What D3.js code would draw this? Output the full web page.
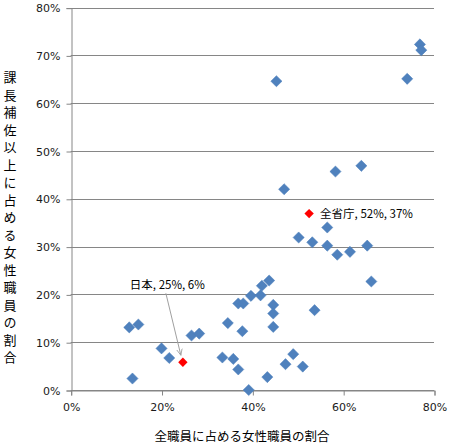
<!DOCTYPE html>
<html>
<head>
<meta charset="utf-8">
<script src="https://cdn.jsdelivr.net/npm/d3@7"></script>
<style>
  body { margin: 0; background: #fff; }
  text { font-family: "DejaVu Sans", sans-serif; }
  .jp { font-family: "Noto Sans CJK JP", sans-serif; }
</style>
</head>
<body>
<div id="chart-container"></div>
<script>
// share of women among all staff (x) and among deputy-director and above (y), per ministry
var xValues = [12.9, 14.9, 13.6, 20.0, 21.7, 26.6, 28.3, 33.4, 34.6, 35.8, 36.9, 36.9, 38.0, 37.8,
               39.2, 39.7, 41.8, 42.1, 43.7, 43.3, 44.6, 44.6, 44.6, 47.3, 49.0, 51.1, 53.7,
               47.0, 58.3, 64.0, 56.5, 50.2, 53.2, 56.5, 58.7, 61.5, 65.3, 66.2,
               45.3, 74.1, 76.9, 77.2];
var yValues = [13.1, 13.7, 2.4, 8.7, 6.7, 11.4, 11.8, 6.8, 14.0, 6.5, 4.3, 18.1, 18.1, 12.3,
               0.0, 19.7, 19.8, 21.8, 22.9, 2.7, 17.8, 16.0, 13.2, 5.4, 7.5, 4.9, 16.7,
               42.0, 45.7, 46.9, 34.0, 31.9, 30.9, 30.2, 28.3, 28.9, 30.2, 22.7,
               64.6, 65.1, 72.3, 71.1];

// highlighted points
var highlightNames = ["全省庁", "日本"];
var highlightX = [52.5, 24.7];
var highlightY = [36.9, 5.8];
var highlightLabels = ["全省庁, 52%, 37%", "日本, 25%, 6%"];

var xTicks = [0, 20, 40, 60, 80];
var yTicks = [0, 10, 20, 30, 40, 50, 60, 70, 80];

var xTitle = "全職員に占める女性職員の割合";
var yTitle = "課長補佐以上に占める女性職員の割合";

var W = 463, H = 446;
var svg = d3.select("#chart-container").append("svg")
    .attr("width", W).attr("height", H);

var x = d3.scaleLinear().domain([0, 80]).range([70.7, 434]);
var y = d3.scaleLinear().domain([0, 80]).range([390, 7.6]);

var gridColor = "#868686";

// gridlines
svg.append("g").selectAll("line")
    .data(yTicks)
    .enter().append("line")
    .attr("x1", x(0)).attr("x2", x(80))
    .attr("y1", d => Math.round(y(d)) + 0.5)
    .attr("y2", d => Math.round(y(d)) + 0.5)
    .attr("stroke", gridColor);

// y axis
var yAxis = d3.axisLeft(y).tickValues(yTicks).tickSize(5).tickPadding(6)
    .tickFormat(d => d + "%");
var gy = svg.append("g")
    .attr("transform", `translate(${Math.round(x(0)) + 0.5},0.5)`)
    .call(yAxis);

// x axis
var xAxis = d3.axisBottom(x).tickValues(xTicks).tickSize(5).tickPadding(8)
    .tickFormat(d => d + "%");
var gx = svg.append("g")
    .attr("transform", `translate(0.5,${Math.round(y(0)) + 0.5})`)
    .call(xAxis);

[gx, gy].forEach(g => {
    g.select(".domain").attr("stroke", gridColor);
    g.selectAll(".tick line").attr("stroke", gridColor);
    g.selectAll(".tick text").attr("fill", "#1a1a1a").attr("font-size", "11px")
        .attr("font-family", "DejaVu Sans, sans-serif");
});

// axis titles
svg.append("text")
    .attr("class", "jp")
    .attr("x", 242).attr("y", 441)
    .attr("text-anchor", "middle")
    .attr("font-size", "12.5px")
    .attr("fill", "#000")
    .text(xTitle);

svg.append("text")
    .attr("class", "jp")
    .attr("x", 10).attr("y", 71)
    .attr("font-size", "13px")
    .attr("fill", "#000")
    .style("writing-mode", "vertical-rl")
    .style("letter-spacing", "4.5px")
    .text(yTitle);

// diamond markers
var diamond = d3.symbol().type(d3.symbolSquare).size(62);
var points = xValues.map((v, i) => ({ x: v, y: yValues[i] }));

svg.append("g").selectAll("path")
    .data(points)
    .enter().append("path")
    .attr("d", diamond)
    .attr("transform", d => `translate(${x(d.x)},${y(d.y)}) rotate(45)`)
    .attr("fill", "#4F81BD")
    .attr("stroke", "#4A7EBB")
    .attr("stroke-width", 0.5);

var hl = highlightX.map((v, i) => ({ name: highlightNames[i], x: v, y: highlightY[i], label: highlightLabels[i] }));

svg.append("g").selectAll("path")
    .data(hl)
    .enter().append("path")
    .attr("d", d3.symbol().type(d3.symbolSquare).size(44))
    .attr("transform", d => `translate(${x(d.x)},${y(d.y)}) rotate(45)`)
    .attr("fill", "#FF0000");

// label beside 全省庁
var all = hl[0];
svg.append("text")
    .attr("class", "jp")
    .attr("x", x(all.x) + 11).attr("y", y(all.y) + 4)
    .attr("font-size", "11.5px")
    .attr("fill", "#000")
    .text(all.label);

// label with arrow for 日本
var jp = hl[1];
svg.append("defs").append("marker")
    .attr("id", "arrow")
    .attr("viewBox", "0 0 10 10")
    .attr("refX", 9).attr("refY", 5)
    .attr("markerWidth", 7).attr("markerHeight", 7)
    .attr("orient", "auto")
    .append("path")
    .attr("d", "M0,1 L9,5 L0,9")
    .attr("fill", "none")
    .attr("stroke", "#A0A0A0")
    .attr("stroke-width", 1.2);

svg.append("line")
    .attr("x1", x(jp.x) - 17).attr("y1", y(jp.y) - 69)
    .attr("x2", x(jp.x) - 2).attr("y2", y(jp.y) - 7)
    .attr("stroke", "#A0A0A0")
    .attr("stroke-width", 1)
    .attr("marker-end", "url(#arrow)");

svg.append("text")
    .attr("class", "jp")
    .attr("x", x(jp.x) - 53).attr("y", y(jp.y) - 73)
    .attr("font-size", "11.5px")
    .attr("fill", "#000")
    .text(jp.label);
</script>
</body>
</html>
